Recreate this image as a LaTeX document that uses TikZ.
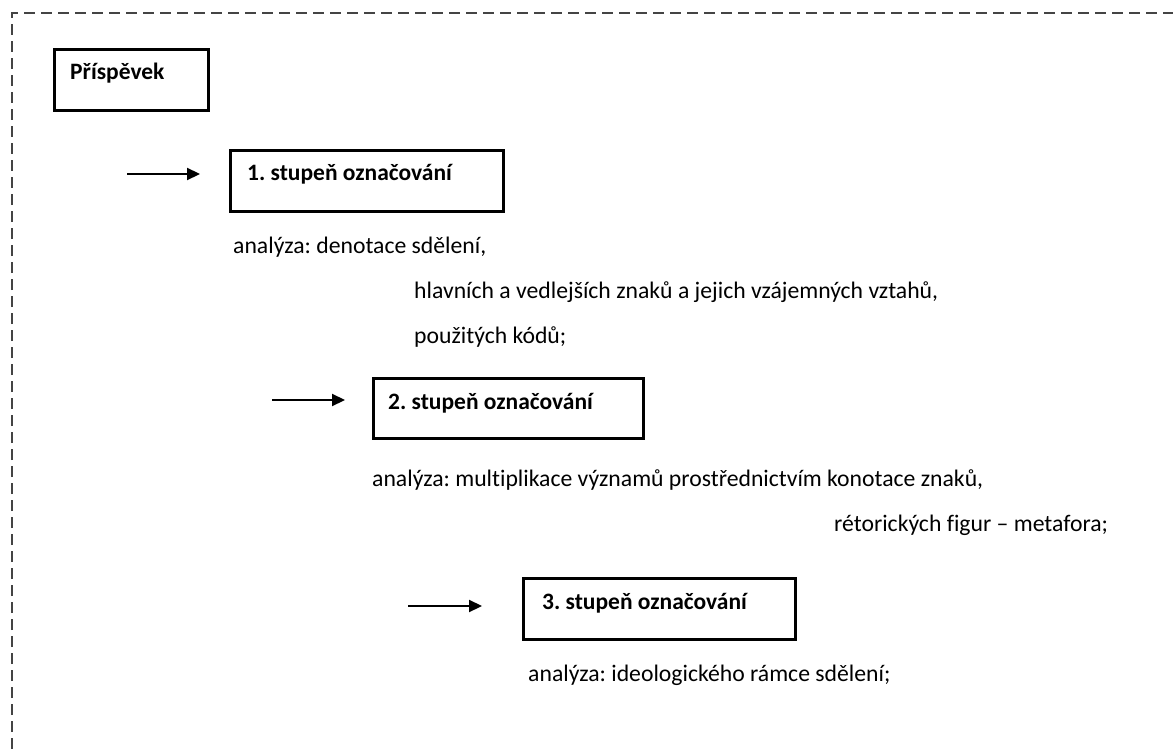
\documentclass[tikz,border=0pt]{standalone}
\usepackage{fontspec}
\setmainfont{Carlito}[Ligatures=NoCommon]
\usetikzlibrary{arrows.meta}
\frenchspacing
\begin{document}
\begin{tikzpicture}[x=1pt,y=-1pt,
  stagebox/.style={draw=black,line width=2.6pt,inner sep=0pt,anchor=north west},
  head/.style={font=\fontsize{23.5}{28}\selectfont\bfseries\frenchspacing,inner sep=0pt,anchor=base west},
  body/.style={font=\fontsize{23.7}{28}\selectfont\frenchspacing,inner sep=0pt,anchor=base west},
  arr/.style={line width=2.2pt,-{Triangle[length=13pt,width=12pt]}},
  frame/.style={draw={rgb,255:red,68;green,68;blue,68},line width=1.5pt,dash pattern=on 11pt off 6pt}
]
\useasboundingbox (0,0) rectangle (1173,749);
% dashed frame
\coordinate (fbl) at (12,749);
\coordinate (ftl) at (12,13);
\coordinate (ftr) at (1173,13);
\draw[frame] (fbl) -- (ftl) -- (ftr);

% Prispevek
\node[stagebox,minimum width=154pt,minimum height=61pt] (b0) at (53,48) {};
\node[head] (t0) at (70,80) {Příspěvek};

% stage 1
\coordinate (a1s) at (127,174);
\coordinate (a1e) at (200,174);
\draw[arr] (a1s) -- (a1e);
\node[stagebox,minimum width=273pt,minimum height=61pt] (b1) at (229,149) {};
\node[head] (t1) at (247,181) {1. stupeň označování};
\node[body] (l1a) at (233,253) {analýza: denotace sdělení,};
\node[body] (l1b) at (414,298) {hlavních a vedlejších znaků a jejich vzájemných vztahů,};
\node[body] (l1c) at (414,343) {použitých kódů;};

% stage 2
\coordinate (a2s) at (272,400);
\coordinate (a2e) at (345,400);
\draw[arr] (a2s) -- (a2e);
\node[stagebox,minimum width=270pt,minimum height=60pt] (b2) at (372,377) {};
\node[head] (t2) at (388,409) {2. stupeň označování};
\node[body] (l2a) at (372,486) {analýza: multiplikace významů prostřednictvím konotace znaků,};
\node[body] (l2b) at (834,531) {rétorických figur – metafora;};

% stage 3
\coordinate (a3s) at (408,606);
\coordinate (a3e) at (482,606);
\draw[arr] (a3s) -- (a3e);
\node[stagebox,minimum width=272pt,minimum height=61pt] (b3) at (522,577) {};
\node[head] (t3) at (542,609) {3. stupeň označování};
\node[body] (l3a) at (528,681) {analýza: ideologického rámce sdělení;};
\end{tikzpicture}
\end{document}
